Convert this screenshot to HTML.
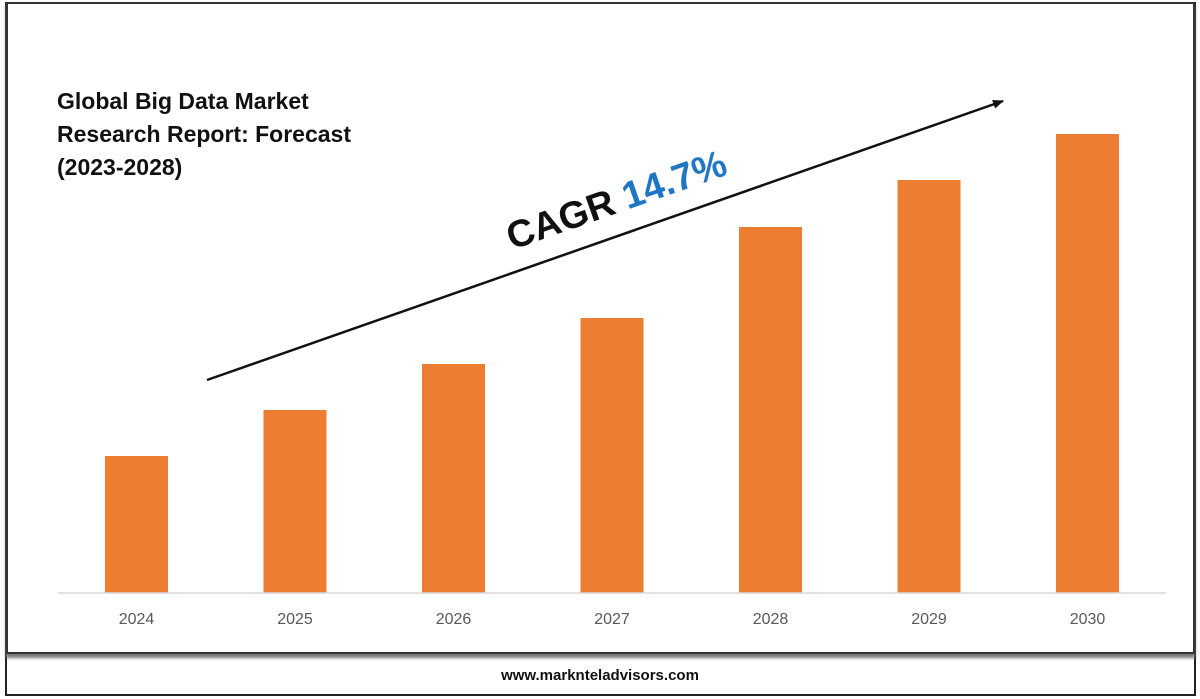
<!DOCTYPE html>
<html><head><meta charset="utf-8"><style>
body{margin:0;width:1200px;height:699px;background:#fff;overflow:hidden;font-family:"Liberation Sans",sans-serif;}
#frame{position:absolute;left:5px;top:2px;width:1187px;height:692px;border:2px solid #222;border-top:none;}
#panel{position:absolute;left:6px;top:2px;width:1185px;height:648px;border:2px solid #333;background:#fff;box-shadow:0 4px 3px #777;}
svg{position:absolute;left:0;top:0;}
#site{position:absolute;left:0;width:1200px;top:667px;text-align:center;font-weight:bold;font-size:15px;color:#111;}
</style></head><body>
<div id="frame"></div>
<div id="panel"></div>
<svg width="1200" height="699">
<g id="bars"></g>
<line x1="58" y1="593" x2="1166" y2="593" stroke="#d9d9d9" stroke-width="1.5"/>
<g id="ticks"></g>
<text font-weight="bold" font-size="23" fill="#111">
<tspan x="57" y="109">Global Big Data Market</tspan><tspan x="57" y="142">Research Report: Forecast</tspan><tspan x="57" y="175">(2023-2028)</tspan></text>
<defs><marker id="ah" markerUnits="userSpaceOnUse" markerWidth="11" markerHeight="9" refX="10" refY="4.5" orient="auto"><path d="M0,0 L11,4.5 L0,9 z" fill="#111"/></marker></defs>
<line x1="207" y1="380" x2="1003" y2="101" stroke="#111" stroke-width="2.5" marker-end="url(#ah)"/>
<text transform="translate(512,250) rotate(-19.3)" font-weight="bold" font-size="38"><tspan fill="#111">CAGR </tspan><tspan fill="#1f77c4">14.7%</tspan></text>
</svg>
<div id="site">www.marknteladvisors.com</div>
<script>
const categories=["2024","2025","2026","2027","2028","2029","2030"];
const values=[13.7,18.3,22.9,27.5,36.6,41.3,45.9];
const x=i=>136.5+158.5*i, y=v=>593-v*10;
const bg=document.getElementById('bars'), tg=document.getElementById('ticks');
categories.forEach((c,i)=>{
 const r=document.createElementNS('http://www.w3.org/2000/svg','rect');
 r.setAttribute('x',x(i)-31.5);r.setAttribute('width',63);
 r.setAttribute('y',y(values[i]));r.setAttribute('height',593-y(values[i]));
 r.setAttribute('fill','#ed7d31');
 
 
 bg.appendChild(r);
 const t=document.createElementNS('http://www.w3.org/2000/svg','text');
 t.setAttribute('x',x(i));t.setAttribute('y',624);t.setAttribute('text-anchor','middle');
 t.setAttribute('font-size','16');t.setAttribute('fill','#595959');t.textContent=c;
 
 
 tg.appendChild(t);
});
</script>
</body></html>
